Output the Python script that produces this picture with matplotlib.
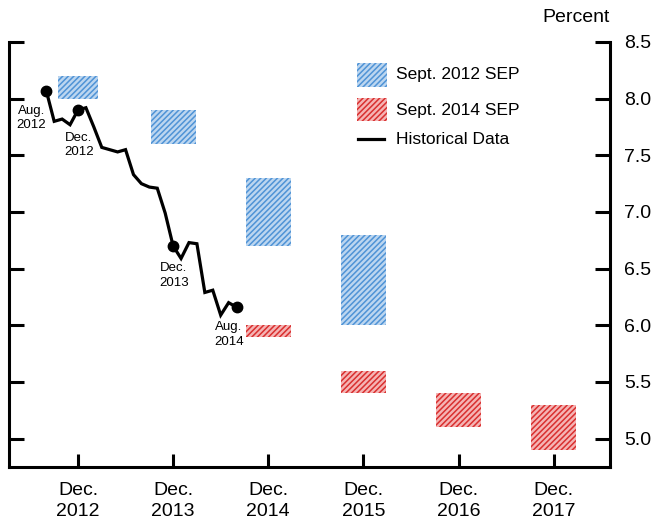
import matplotlib
matplotlib.use("Agg")
import matplotlib.pyplot as plt
from matplotlib.patches import Rectangle
from matplotlib.lines import Line2D

plt.rcParams['font.family'] = ['Liberation Sans', 'DejaVu Sans']
plt.rcParams['hatch.linewidth'] = 1.1

# months counted from Dec. 2012 (= 0)
hist_months = list(range(-4, 21))
hist_rate = [8.07, 7.80, 7.82, 7.77, 7.90, 7.92, 7.75, 7.57, 7.55, 7.53,
             7.55, 7.33, 7.25, 7.22, 7.21, 6.99, 6.70, 6.59, 6.73, 6.72,
             6.29, 6.31, 6.09, 6.20, 6.16]

marker_months = [-4, 0, 12, 20]
marker_rate = [8.07, 7.90, 6.70, 6.16]
marker_labels = ['Aug.\n2012', 'Dec.\n2012', 'Dec.\n2013', 'Aug.\n2014']

# Sept. 2012 SEP central tendency ranges
sep12_months = [0, 12, 24, 36]
sep12_low = [8.0, 7.6, 6.7, 6.0]
sep12_high = [8.2, 7.9, 7.3, 6.8]

# Sept. 2014 SEP central tendency ranges
sep14_months = [24, 36, 48, 60]
sep14_low = [5.9, 5.4, 5.1, 4.9]
sep14_high = [6.0, 5.6, 5.4, 5.3]

xtick_months = [0, 12, 24, 36, 48, 60]
xtick_labels = ['Dec.\n2012', 'Dec.\n2013', 'Dec.\n2014', 'Dec.\n2015',
                'Dec.\n2016', 'Dec.\n2017']
yticks = [5.0, 5.5, 6.0, 6.5, 7.0, 7.5, 8.0, 8.5]

legend_labels = ['Sept. 2012 SEP', 'Sept. 2014 SEP', 'Historical Data']

blue_face, blue_hatch = '#bcd6f0', '#4f93d6'
red_face, red_hatch = '#f5b4b4', '#d92f2f'
HATCH = '//////'

W, H = 656, 526
fig = plt.figure(figsize=(W / 100, H / 100), dpi=100)
ax = fig.add_axes([9 / W, 1 - 467 / H, 601 / W, 425 / H])

# SEP boxes
ax.bar(sep12_months, [h - l for h, l in zip(sep12_high, sep12_low)],
       bottom=sep12_low, width=[5.0, 5.7, 5.7, 5.7], color=blue_face,
       edgecolor=blue_hatch, linewidth=0, hatch=HATCH)
ax.bar(sep14_months, [h - l for h, l in zip(sep14_high, sep14_low)],
       bottom=sep14_low, width=5.7, color=red_face,
       edgecolor=red_hatch, linewidth=0, hatch=HATCH)

# historical data
ax.plot(hist_months, hist_rate, color='black', lw=2.3, solid_joinstyle='miter')
ax.plot(marker_months, marker_rate, 'o', color='black', ms=7.5)

label_pos = [(-5.9, 7.83), (0.1, 7.59), (12.1, 6.44), (19.0, 5.92)]
for (tx, ty), lab in zip(label_pos, marker_labels):
    ax.text(tx, ty, lab, ha='center', va='center', fontsize=9.5,
            linespacing=1.25)

ax.set_xlim(-8.7, 67.1)
ax.set_ylim(4.75, 8.5)
ax.set_xticks(xtick_months)
ax.set_xticklabels(xtick_labels, fontsize=14, linespacing=1.3)
ax.set_yticks(yticks)
ax.set_yticklabels([f'{v:.1f}' for v in yticks], fontsize=14)
ax.set_yticks([8.5], minor=True)

ax.spines['top'].set_visible(False)
for s in ['left', 'right', 'bottom']:
    ax.spines[s].set_linewidth(2.2)
ax.tick_params(axis='y', which='major', left=True, right=True,
               labelleft=False, labelright=True, direction='in',
               length=11, width=2.2, pad=10)
ax.tick_params(axis='y', which='minor', left=True, right=True,
               direction='in', length=20, width=2.2)
ax.tick_params(axis='x', direction='in', length=9.5, width=2.2, pad=11)

# legend drawn by hand (pixel positions from top-left)
def px(x, y):
    return x / W, 1 - y / H

for (top, bot), face, hc in [((63, 87), blue_face, blue_hatch),
                             ((98, 121), red_face, red_hatch)]:
    fig.add_artist(Rectangle(px(357, bot), 30 / W, (bot - top) / H,
                             transform=fig.transFigure, facecolor=face,
                             edgecolor=hc, linewidth=0, hatch=HATCH))
fig.add_artist(Line2D([358 / W, 384 / W], [1 - 139 / H] * 2,
                      transform=fig.transFigure, color='black', lw=2.3))
for lab, yc in zip(legend_labels, [75, 110, 139]):
    fig.text(*px(396, yc), lab, ha='left', va='center', fontsize=12.5)

fig.text(610 / W, 1 - 18 / H, 'Percent', ha='right', va='center',
         fontsize=14)

fig.savefig('out.png', dpi=100)
